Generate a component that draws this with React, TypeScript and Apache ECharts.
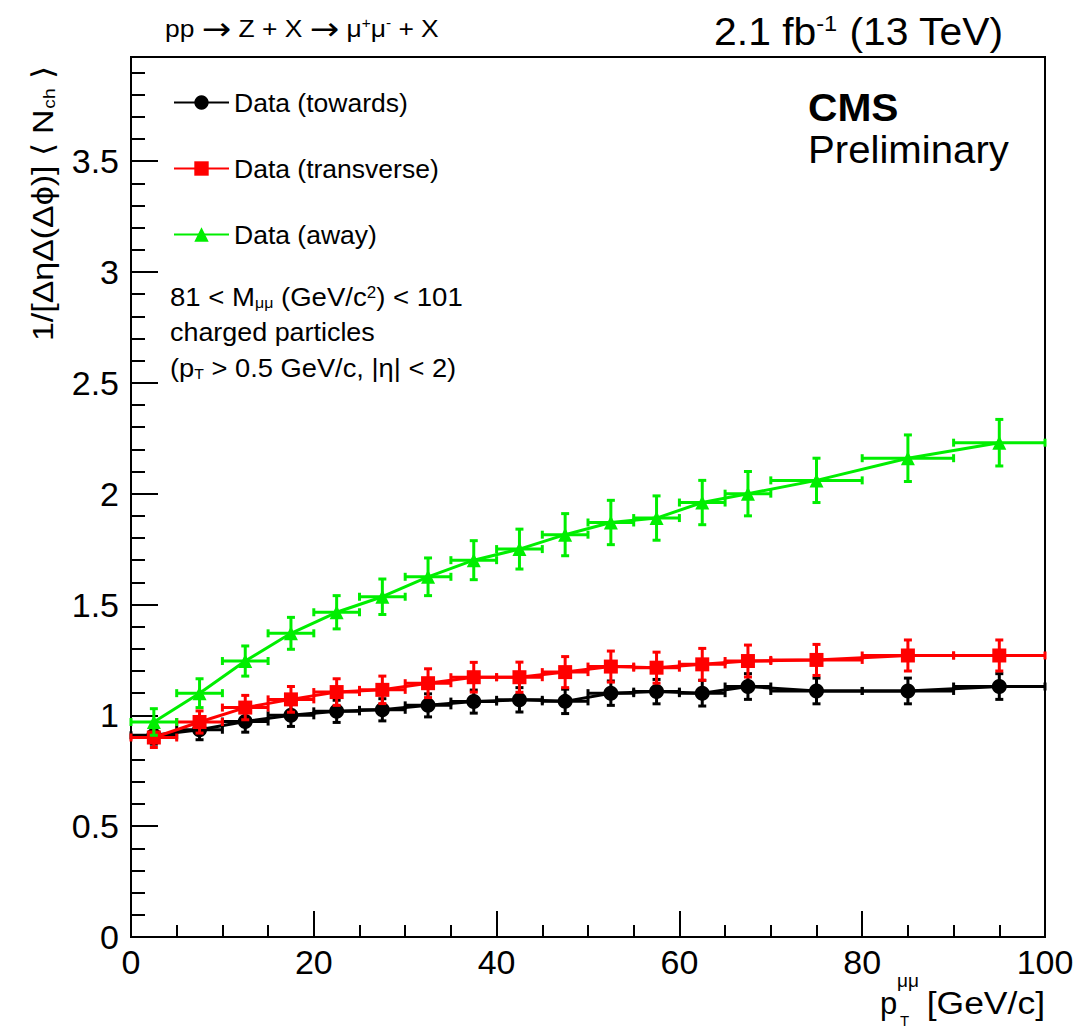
import React, { useEffect, useRef } from "react";
import * as echarts from "echarts";

// ---- data (bin centres in GeV/c, bin half-widths, values, statistical errors) ----
const binCenters = [2.5, 7.5, 12.5, 17.5, 22.5, 27.5, 32.5, 37.5, 42.5, 47.5, 52.5, 57.5, 62.5, 67.5, 75, 85, 95];
const binHalfWidths = [2.5, 2.5, 2.5, 2.5, 2.5, 2.5, 2.5, 2.5, 2.5, 2.5, 2.5, 2.5, 2.5, 2.5, 5, 5, 5];

const towardsValues = [0.91, 0.935, 0.972, 1.0, 1.018, 1.025, 1.045, 1.062, 1.07, 1.063, 1.1, 1.107, 1.1, 1.13, 1.11, 1.11, 1.13];
const towardsErrors = [0.04, 0.045, 0.048, 0.05, 0.05, 0.05, 0.052, 0.052, 0.055, 0.055, 0.055, 0.055, 0.058, 0.058, 0.058, 0.058, 0.058];

const transverseValues = [0.9, 0.97, 1.035, 1.072, 1.105, 1.115, 1.145, 1.172, 1.172, 1.195, 1.22, 1.215, 1.23, 1.245, 1.25, 1.27, 1.27];
const transverseErrors = [0.045, 0.05, 0.055, 0.058, 0.06, 0.062, 0.065, 0.067, 0.068, 0.07, 0.07, 0.07, 0.072, 0.072, 0.07, 0.07, 0.07];

const awayValues = [0.97, 1.1, 1.245, 1.37, 1.465, 1.535, 1.625, 1.7, 1.75, 1.815, 1.87, 1.89, 1.96, 2.0, 2.06, 2.16, 2.23];
const awayErrors = [0.06, 0.065, 0.068, 0.072, 0.075, 0.08, 0.085, 0.088, 0.09, 0.095, 0.1, 0.1, 0.1, 0.1, 0.1, 0.105, 0.105];

const seriesNames = ["Data (towards)", "Data (transverse)", "Data (away)"];

// ---- axes ----
const xMin = 0;
const xMax = 100;
const xInterval = 20;
const yMin = 0;
const yMax = 3.97;
const yTickValues = [0, 0.5, 1, 1.5, 2, 2.5, 3, 3.5];
const yMinorTickValues = [
  0.1, 0.2, 0.3, 0.4, 0.6, 0.7, 0.8, 0.9, 1.1, 1.2, 1.3, 1.4, 1.6, 1.7, 1.8, 1.9,
  2.1, 2.2, 2.3, 2.4, 2.6, 2.7, 2.8, 2.9, 3.1, 3.2, 3.3, 3.4, 3.6, 3.7, 3.8, 3.9,
];

const FONT = '"Liberation Sans", Arial, Helvetica, sans-serif';
const ARROW_FONT = '"DejaVu Sans", sans-serif';

function errorBarSeries(name: string, color: string, values: number[], errors: number[], z: number) {
  const data = binCenters.map((x, i) => [x, values[i], binHalfWidths[i], errors[i]]);
  return {
    type: "custom",
    name: name + " errors",
    silent: true,
    z,
    yAxisIndex: 0,
    encode: { x: 0, y: 1 },
    data,
    renderItem: (_params: any, api: any) => {
      const x = api.value(0);
      const y = api.value(1);
      const hw = api.value(2);
      const e = api.value(3);
      const c = api.coord([x, y]);
      const l = api.coord([x - hw, y]);
      const r = api.coord([x + hw, y]);
      const t = api.coord([x, y + e]);
      const b = api.coord([x, y - e]);
      const cap = 4;
      const style = { stroke: color, lineWidth: 3, fill: null };
      const ln = (x1: number, y1: number, x2: number, y2: number) => ({
        type: "line",
        shape: { x1, y1, x2, y2 },
        style,
      });
      return {
        type: "group",
        children: [
          ln(l[0], c[1], r[0], c[1]),
          ln(c[0], t[1], c[0], b[1]),
          ln(l[0], c[1] - cap, l[0], c[1] + cap),
          ln(r[0], c[1] - cap, r[0], c[1] + cap),
          ln(c[0] - cap, t[1], c[0] + cap, t[1]),
          ln(c[0] - cap, b[1], c[0] + cap, b[1]),
        ],
      };
    },
  };
}

function lineSeries(name: string, color: string, symbol: string, symbolSize: number, values: number[], z: number) {
  return {
    type: "line",
    name,
    z,
    yAxisIndex: 0,
    data: binCenters.map((x, i) => [x, values[i]]),
    symbol,
    symbolSize,
    showAllSymbol: true,
    lineStyle: { color, width: 3 },
    itemStyle: { color, borderWidth: 0 },
    emphasis: { disabled: true },
  };
}

const supStyle = (size: number) => ({ fontSize: size, lineHeight: 6, verticalAlign: "top", fontFamily: FONT, fill: "#000" });
const subStyle = (size: number) => ({ fontSize: size, lineHeight: 4, verticalAlign: "bottom", fontFamily: FONT, fill: "#000" });

function textEl(x: number, baseline: number, size: number, text: string, extra: any = {}, scaleX = 1) {
  return {
    type: "text",
    x,
    y: baseline - 0.35 * size,
    scaleX,
    silent: true,
    style: {
      text,
      fontSize: size,
      lineHeight: size,
      fontFamily: FONT,
      fill: "#000",
      align: "left",
      verticalAlign: "middle",
      ...extra,
    },
  };
}

export default function App() {
  const ref = useRef<HTMLDivElement>(null);

  useEffect(() => {
    if (!ref.current) return;
    const chart = echarts.init(ref.current, null, { renderer: "svg" });

    const axisLineStyle = { color: "#000", width: 2 };

    const option: any = {
      animation: false,
      backgroundColor: "#ffffff",
      grid: {
        left: 131,
        right: 34,
        top: 57,
        bottom: 93,
        show: true,
        borderColor: "#000",
        borderWidth: 2,
        backgroundColor: "transparent",
        containLabel: false,
        outerBoundsMode: "none",
      },
      xAxis: {
        type: "value",
        min: xMin,
        max: xMax,
        interval: xInterval,
        axisLine: { show: true, onZero: false, lineStyle: axisLineStyle },
        axisTick: { show: true, inside: true, length: 26, lineStyle: axisLineStyle },
        minorTick: { show: true, splitNumber: 4, length: 12, lineStyle: axisLineStyle },
        axisLabel: { show: true, margin: 8, fontSize: 34, fontFamily: FONT, color: "#000" },
        splitLine: { show: false },
        minorSplitLine: { show: false },
      },
      yAxis: [
        {
          type: "value",
          min: yMin,
          max: yMax,
          interval: 0.5,
          axisLine: { show: true, onZero: false, lineStyle: axisLineStyle },
          axisTick: { show: true, inside: true, length: 27, customValues: yTickValues, lineStyle: axisLineStyle },
          axisLabel: {
            show: true,
            customValues: yTickValues,
            margin: 12,
            fontSize: 34,
            fontFamily: FONT,
            color: "#000",
          },
          splitLine: { show: false },
        },
        {
          type: "value",
          min: yMin,
          max: yMax,
          position: "left",
          axisLine: { show: false },
          axisTick: { show: true, inside: true, length: 14, customValues: yMinorTickValues, lineStyle: axisLineStyle },
          axisLabel: { show: false },
          splitLine: { show: false },
        },
      ],
      legend: {
        data: seriesNames,
        orient: "vertical",
        left: 173,
        top: 89,
        padding: 0,
        itemWidth: 55,
        itemHeight: 18,
        itemGap: 39,
        selectedMode: false,
        textStyle: { fontSize: 26.5, lineHeight: 26, fontFamily: FONT, color: "#000" },
      },
      graphic: [
        // top-left process label
        textEl(
          165,
          37,
          24,
          "pp {arr|→} Z + X {arr|→} μ{sup|+}μ{sup|-} + X",
          {
            rich: {
              sup: supStyle(14),
              arr: { fontSize: 32, lineHeight: 24, fontFamily: ARROW_FONT, fill: "#000" },
            },
          },
          1.1
        ),
        // luminosity / energy
        textEl(
          1003,
          45,
          38,
          "2.1 fb{sup|-1} (13 TeV)",
          { align: "right", rich: { sup: { ...supStyle(22), lineHeight: 12 } } },
          1.075
        ),
        // CMS Preliminary
        textEl(808, 121, 39, "CMS", { fontWeight: "bold" }, 1.045),
        textEl(808, 163, 39, "Preliminary", {}, 1.03),
        // selection annotation
        textEl(
          170,
          306,
          26,
          "81 < M{sub|μμ} (GeV/c{sup|2}) < 101",
          { rich: { sub: subStyle(15), sup: supStyle(16) } },
          1.06
        ),
        textEl(170, 341, 26, "charged particles", {}, 1.035),
        textEl(170, 377, 26, "(p{sub|T} > 0.5 GeV/c, |η| < 2)", { rich: { sub: subStyle(15) } }, 1.05),
        // y axis title (rotated)
        {
          type: "text",
          x: 43,
          y: 341,
          rotation: Math.PI / 2,
          scaleX: 1.13,
          silent: true,
          style: {
            text: "1/[ΔηΔ(Δϕ)] ⟨ N{sub|ch} ⟩",
            fontSize: 30,
            lineHeight: 30,
            fontFamily: FONT,
            fill: "#000",
            align: "left",
            verticalAlign: "middle",
            rich: { sub: subStyle(17) },
          },
        },
        // x axis title
        textEl(880, 1014, 31, "p"),
        textEl(897, 987, 19, "μμ"),
        textEl(900, 1026, 15, "T"),
        textEl(1045, 1014, 31, "[GeV/c]", { align: "right" }, 1.145),
      ],
      series: [
        errorBarSeries(seriesNames[0], "#000000", towardsValues, towardsErrors, 2),
        lineSeries(seriesNames[0], "#000000", "circle", 15, towardsValues, 3),
        errorBarSeries(seriesNames[1], "#ff0000", transverseValues, transverseErrors, 4),
        lineSeries(seriesNames[1], "#ff0000", "rect", 14, transverseValues, 5),
        errorBarSeries(seriesNames[2], "#00ee00", awayValues, awayErrors, 6),
        lineSeries(seriesNames[2], "#00ee00", "triangle", 14, awayValues, 7),
      ],
    };

    chart.setOption(option);
    return () => chart.dispose();
  }, []);

  return (
    <div
      ref={ref}
      style={{ position: "fixed", left: 0, top: 0, width: 1079, height: 1030, background: "#fff" }}
    />
  );
}
